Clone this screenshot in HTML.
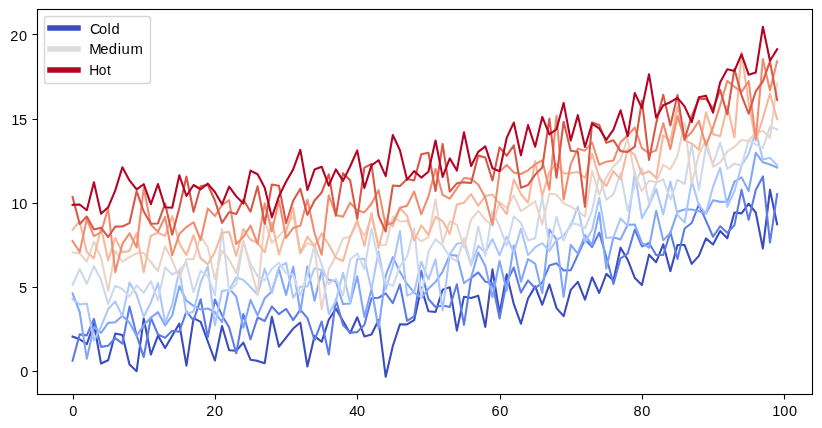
<!DOCTYPE html>
<html lang="en">
<head>
<meta charset="utf-8">
<title>Custom legend: Cold / Medium / Hot</title>
<style>
html,body{margin:0;padding:0;background:#ffffff;}
body{width:822px;height:428px;overflow:hidden;}
svg{display:block;}
text{font-family:"Liberation Sans",sans-serif;font-size:14px;fill:#000000;}
.ln{fill:none;stroke-width:2.0833;stroke-linejoin:round;stroke-linecap:square;}
.ax{fill:none;stroke:#000000;stroke-width:1.1111;stroke-linecap:butt;}
.hd{fill:none;stroke-width:5.5556;stroke-linecap:square;}
</style>
</head>
<body>
<svg width="822" height="428" viewBox="0 0 822 428">
<rect x="0" y="0" width="822" height="428" fill="#ffffff"/>
<defs><clipPath id="axclip"><rect x="37.35" y="9.28" width="775" height="385"/></clipPath></defs>
<!-- data series: 10 lines coloured with the coolwarm colormap -->
<g id="series" clip-path="url(#axclip)">
<polyline class="ln" stroke="#3b4cc0" points="72.57,336.56 79.69,339.25 86.81,344.15 93.92,323.92 101.04,363.52 108.16,360.21 115.27,333.56 122.39,334.94 129.51,364.41 136.62,371.14 143.74,318.5 150.86,354.51 157.97,335.63 165.09,347.92 172.21,335.7 179.32,323.6 186.44,365.62 193.56,318.19 200.67,321.89 207.79,341.47 214.91,360.5 222.02,326.04 229.14,350.24 236.26,350.69 243.37,342.64 250.49,359.72 257.61,360.9 264.72,363.26 271.84,316.7 278.96,346.73 286.07,337.52 293.19,328.54 300.31,322.55 307.42,366.52 314.54,336.09 321.66,341.81 328.77,319.79 335.89,308.58 343.01,321.05 350.12,333.22 357.24,317.25 364.36,336.4 371.47,334.46 378.59,320.03 385.71,376.78 392.82,345.99 399.94,324.39 407.06,324.48 414.17,320.2 421.29,287.59 428.41,311.27 435.52,311.95 442.64,289.74 449.76,287.14 456.87,330.65 463.99,296.69 471.11,297.93 478.22,295.64 485.34,326.91 492.46,269.38 499.57,313.25 506.69,274.33 513.8,304.14 520.92,323.71 528.04,298.44 535.15,286.37 542.27,304.75 549.39,284.43 556.5,308.11 563.62,316.15 570.74,289.86 577.85,281.83 584.97,299.57 592.09,277.2 599.2,292.99 606.32,273.87 613.44,280.59 620.55,247.67 627.67,259.67 634.79,277.95 641.9,285.08 649.02,254.7 656.14,262.17 663.25,244.31 670.37,271.11 677.49,245.04 684.6,245.06 691.72,263.84 698.84,255.84 705.95,238.4 713.07,244.55 720.19,231.02 727.3,238.22 734.42,212.48 741.54,213.37 748.65,203.74 755.77,212.48 762.89,248.44 770,189.89 777.12,224.15"/>
<polyline class="ln" stroke="#5d7ce6" points="72.57,360.76 79.69,334.38 86.81,335.35 93.92,318.85 101.04,346.87 108.16,345.74 115.27,338.06 122.39,343.61 129.51,306.58 136.62,335.2 143.74,357.06 150.86,317.74 157.97,334.53 165.09,337.68 172.21,330.68 179.32,331.74 186.44,311.41 193.56,320.34 200.67,299.31 207.79,337.23 214.91,299.52 222.02,315.45 229.14,327.57 236.26,353.3 243.37,313.97 250.49,339.51 257.61,317.51 264.72,321.03 271.84,306.45 278.96,314.17 286.07,308.81 293.19,320.15 300.31,309.65 307.42,318.05 314.54,340.03 321.66,321.57 328.77,354.51 335.89,299.61 343.01,325.03 350.12,332.63 357.24,332.09 364.36,324.87 371.47,298.17 378.59,297.75 385.71,293.32 392.82,303.21 399.94,284.4 407.06,320.78 414.17,316.35 421.29,270.74 428.41,298.95 435.52,306.95 442.64,305.52 449.76,306.97 456.87,284.25 463.99,324.9 471.11,278.1 478.22,272.42 485.34,281.66 492.46,283.22 499.57,318.53 506.69,281.92 513.8,267.53 520.92,292.58 528.04,280.42 535.15,288.21 542.27,282.39 549.39,265.54 556.5,263.29 563.62,270.41 570.74,270.28 577.85,254.82 584.97,239.45 592.09,247.02 599.2,232.65 606.32,256.99 613.44,283.87 620.55,258.45 627.67,253.64 634.79,229.51 641.9,246.47 649.02,242.97 656.14,254.97 663.25,254.98 670.37,232.14 677.49,259.04 684.6,228.5 691.72,223 698.84,204.26 705.95,220.57 713.07,236.72 720.19,226.21 727.3,232.77 734.42,225.21 741.54,189.89 748.65,219.82 755.77,190.05 762.89,176.41 770,242.58 777.12,194.15"/>
<polyline class="ln" stroke="#82a6fb" points="72.57,293.45 79.69,312.18 86.81,358.67 93.92,326.97 101.04,332.92 108.16,322.91 115.27,322.3 122.39,315.82 129.51,322.81 136.62,335.96 143.74,325.03 150.86,317.68 157.97,312.2 165.09,325.37 172.21,315.51 179.32,286.14 186.44,300.68 193.56,305.87 200.67,309.51 207.79,308.53 214.91,312.05 222.02,322.26 229.14,288.32 236.26,296.65 243.37,327.71 250.49,299.89 257.61,315.42 264.72,298.23 271.84,291.14 278.96,268.93 286.07,294.96 293.19,266.72 300.31,312.28 307.42,266.5 314.54,300.68 321.66,271.06 328.77,279.83 335.89,281.5 343.01,304.08 350.12,303.48 357.24,276.3 364.36,316.88 371.47,289 378.59,328.52 385.71,275.36 392.82,257.19 399.94,271.72 407.06,283.91 414.17,292.56 421.29,297.84 428.41,288.86 435.52,281.87 442.64,271.68 449.76,255.02 456.87,255.6 463.99,283.22 471.11,277.71 478.22,252.52 485.34,265.98 492.46,297.3 499.57,260.95 506.69,290.64 513.8,245.47 520.92,281.6 528.04,259.01 535.15,263.63 542.27,293.13 549.39,229.42 556.5,239.57 563.62,296.95 570.74,244.97 577.85,253.69 584.97,235.03 592.09,245.06 599.2,212.6 606.32,268.62 613.44,237.18 620.55,239.38 627.67,224.74 634.79,224.53 641.9,242.8 649.02,247.74 656.14,210.85 663.25,240.17 670.37,232.93 677.49,211.82 684.6,209.47 691.72,209.42 698.84,211.35 705.95,213.76 713.07,200.28 720.19,201.86 727.3,201.57 734.42,181.58 741.54,177.36 748.65,191.03 755.77,152.76 762.89,162.26 770,164.39 777.12,167.62"/>
<polyline class="ln" stroke="#aac7fd" points="72.57,299.03 79.69,304.5 86.81,303.53 93.92,340.49 101.04,326.61 108.16,309.03 115.27,301.56 122.39,316.13 129.51,282.65 136.62,294.8 143.74,316.79 150.86,302.64 157.97,283.07 165.09,322.69 172.21,304.65 179.32,269.64 186.44,313.44 193.56,311.83 200.67,282.46 207.79,266.41 214.91,325.37 222.02,290.87 229.14,289.96 236.26,277.38 243.37,279.91 250.49,287.02 257.61,294.58 264.72,268.68 271.84,292.88 278.96,267.1 286.07,262.79 293.19,297.74 300.31,286.75 307.42,286.4 314.54,268.19 321.66,270 328.77,313.88 335.89,301.01 343.01,272.84 350.12,302.89 357.24,258.9 364.36,258.79 371.47,289.38 378.59,251.12 385.71,289.49 392.82,265.97 399.94,231.11 407.06,295.66 414.17,292.24 421.29,261.86 428.41,279.32 435.52,259.3 442.64,310.38 449.76,254 456.87,243.82 463.99,242.48 471.11,265.25 478.22,245.79 485.34,252.85 492.46,239.07 499.57,255.4 506.69,236.72 513.8,252.81 520.92,228.64 528.04,255.16 535.15,247.21 542.27,243.11 549.39,251.04 556.5,240.08 563.62,235.67 570.74,225.96 577.85,206.74 584.97,242.38 592.09,229.86 599.2,197.78 606.32,238.06 613.44,237.19 620.55,218.47 627.67,225.78 634.79,172.3 641.9,218.12 649.02,205.51 656.14,188.85 663.25,214.4 670.37,181.59 677.49,214.88 684.6,222.66 691.72,180.86 698.84,205.11 705.95,213.33 713.07,186.6 720.19,167.93 727.3,206.74 734.42,191.2 741.54,165.52 748.65,154.19 755.77,131.32 762.89,159.41 770,157.69 777.12,165.34"/>
<polyline class="ln" stroke="#cdd9ec" points="72.57,284.83 79.69,268.98 86.81,283.92 93.92,266.06 101.04,280.07 108.16,303.92 115.27,285.73 122.39,289 129.51,296.46 136.62,285.28 143.74,292.91 150.86,281.14 157.97,300.34 165.09,267.48 172.21,274.51 179.32,270.31 186.44,262.77 193.56,292.26 200.67,270.77 207.79,276.2 214.91,295.18 222.02,229.12 229.14,291.61 236.26,284.06 243.37,242.12 250.49,263.77 257.61,276.28 264.72,280.28 271.84,268.86 278.96,262.75 286.07,273.07 293.19,275.1 300.31,295.67 307.42,274.15 314.54,245.01 321.66,264.81 328.77,284.1 335.89,278.48 343.01,295.4 350.12,259.48 357.24,253.52 364.36,269.08 371.47,228.67 378.59,260.33 385.71,282.28 392.82,286.07 399.94,266.32 407.06,256.6 414.17,228.59 421.29,297.57 428.41,251.55 435.52,239.17 442.64,245.6 449.76,256.8 456.87,261.31 463.99,238.05 471.11,264.66 478.22,226.5 485.34,255.96 492.46,211.42 499.57,226.42 506.69,245.85 513.8,216.37 520.92,222.78 528.04,240.18 535.15,238.38 542.27,196.5 549.39,248.57 556.5,216.85 563.62,240.66 570.74,223 577.85,224.53 584.97,228.27 592.09,210.92 599.2,175.41 606.32,199.72 613.44,194.28 620.55,173.26 627.67,210.7 634.79,184.88 641.9,168.36 649.02,203.07 656.14,182.93 663.25,179.43 670.37,199.6 677.49,179.79 684.6,183.96 691.72,144.44 698.84,190.36 705.95,146.7 713.07,163.97 720.19,142.63 727.3,169.03 734.42,163.67 741.54,165.6 748.65,140.41 755.77,144.35 762.89,148.02 770,126.64 777.12,129.31"/>
<polyline class="ln" stroke="#ead4c8" points="72.57,252.57 79.69,253.44 86.81,261.46 93.92,241.47 101.04,257.74 108.16,290.73 115.27,250.66 122.39,261.69 129.51,257.07 136.62,253.25 143.74,252.81 150.86,262.28 157.97,271.01 165.09,246.27 172.21,260.33 179.32,278.18 186.44,259.32 193.56,259.32 200.67,236.44 207.79,247.22 214.91,279.21 222.02,250.75 229.14,259.54 236.26,273.2 243.37,240.71 250.49,267.7 257.61,293.65 264.72,220.15 271.84,242.87 278.96,236.08 286.07,228.18 293.19,216.02 300.31,252.84 307.42,243.28 314.54,246.07 321.66,309.55 328.77,269.6 335.89,255.94 343.01,238.27 350.12,236.71 357.24,223.56 364.36,235.77 371.47,217.2 378.59,245.02 385.71,245.2 392.82,216.62 399.94,221.44 407.06,220.88 414.17,235.34 421.29,241.29 428.41,237.44 435.52,199.45 442.64,242.86 449.76,221.34 456.87,224.78 463.99,247.52 471.11,219.48 478.22,210.83 485.34,219.77 492.46,225.53 499.57,202.08 506.69,207.82 513.8,195.42 520.92,211.11 528.04,206.4 535.15,201.22 542.27,224.34 549.39,193.79 556.5,194.56 563.62,203.35 570.74,206.6 577.85,211.04 584.97,216.54 592.09,171.01 599.2,194.74 606.32,177.31 613.44,166.44 620.55,159.33 627.67,138.26 634.79,174.73 641.9,190.96 649.02,180.82 656.14,182.24 663.25,164.83 670.37,169.35 677.49,156.02 684.6,122.5 691.72,183.79 698.84,154.47 705.95,139.32 713.07,166.85 720.19,162.45 727.3,151.32 734.42,146.85 741.54,139.97 748.65,141.07 755.77,132.22 762.89,130.92 770,137.8 777.12,83.14"/>
<polyline class="ln" stroke="#f7b89c" points="72.57,229.72 79.69,221.12 86.81,251.91 93.92,258.36 101.04,227.46 108.16,260.24 115.27,238 122.39,252.34 129.51,250.98 136.62,233.12 143.74,272.26 150.86,235.81 157.97,232.79 165.09,235.96 172.21,216.12 179.32,243.45 186.44,255.12 193.56,235.16 200.67,258.37 207.79,264.19 214.91,251.95 222.02,232.55 229.14,232.04 236.26,255.99 243.37,228.98 250.49,239.77 257.61,242.78 264.72,252.33 271.84,222.26 278.96,254.26 286.07,231.69 293.19,207.77 300.31,253.36 307.42,236.72 314.54,246.18 321.66,233.63 328.77,244.47 335.89,257.84 343.01,261.02 350.12,236.98 357.24,220.08 364.36,245.7 371.47,213 378.59,248.07 385.71,218.9 392.82,226.44 399.94,208.1 407.06,215.79 414.17,240.79 421.29,225.34 428.41,234.82 435.52,216.81 442.64,221.09 449.76,234.03 456.87,204.59 463.99,202.69 471.11,194.13 478.22,205.78 485.34,195.96 492.46,194.57 499.57,204.03 506.69,214.26 513.8,179.48 520.92,194.01 528.04,202.77 535.15,161.3 542.27,195.69 549.39,171.66 556.5,163.75 563.62,173.43 570.74,173.09 577.85,171.98 584.97,178.04 592.09,153.9 599.2,177.79 606.32,186.04 613.44,171.2 620.55,179.41 627.67,149.31 634.79,155.01 641.9,174.31 649.02,171.26 656.14,177.88 663.25,135.24 670.37,141.05 677.49,106.62 684.6,140.62 691.72,143.4 698.84,149.8 705.95,112.36 713.07,134.13 720.19,136.2 727.3,105.99 734.42,137.51 741.54,52.29 748.65,103.06 755.77,140.84 762.89,117.96 770,93.66 777.12,119.19"/>
<polyline class="ln" stroke="#f18d6f" points="72.57,240.98 79.69,252.03 86.81,219.38 93.92,236.15 101.04,232.12 108.16,208.45 115.27,272.27 122.39,243.8 129.51,233.23 136.62,247.36 143.74,187.64 150.86,224.66 157.97,231.69 165.09,217.04 172.21,255.26 179.32,234.09 186.44,227.03 193.56,222.24 200.67,239.99 207.79,208.41 214.91,216.04 222.02,205.13 229.14,200.12 236.26,243.98 243.37,236.91 250.49,225.71 257.61,243.89 264.72,203.37 271.84,231.34 278.96,200.44 286.07,237.84 293.19,227.96 300.31,225.67 307.42,199.82 314.54,232.96 321.66,254.64 328.77,195.24 335.89,214.97 343.01,216.73 350.12,202.67 357.24,210.31 364.36,212.38 371.47,203.72 378.59,190.1 385.71,225.48 392.82,222.84 399.94,207.82 407.06,205.8 414.17,191.57 421.29,214.28 428.41,196.68 435.52,169.04 442.64,194.87 449.76,198.56 456.87,188.34 463.99,178.02 471.11,178.85 478.22,184.55 485.34,197.71 492.46,224.65 499.57,171.85 506.69,164.9 513.8,172.52 520.92,174.04 528.04,170.32 535.15,164.41 542.27,160.38 549.39,189.75 556.5,115.68 563.62,199.46 570.74,164.11 577.85,148.68 584.97,150.67 592.09,142.3 599.2,164.75 606.32,161.66 613.44,160.56 620.55,142.32 627.67,135.63 634.79,127.56 641.9,148.18 649.02,153.37 656.14,150.28 663.25,123.14 670.37,149.15 677.49,116.25 684.6,139.01 691.72,132.14 698.84,120.96 705.95,145.56 713.07,127.46 720.19,105.26 727.3,80.91 734.42,86.72 741.54,91.89 748.65,81.21 755.77,138.96 762.89,59.13 770,90.53 777.12,61.3"/>
<polyline class="ln" stroke="#d95847" points="72.57,196.91 79.69,224.08 86.81,216.57 93.92,229.54 101.04,227.67 108.16,237.02 115.27,226.6 122.39,226.46 129.51,223.07 136.62,191.17 143.74,211.47 150.86,223.68 157.97,223.47 165.09,203.56 172.21,234.79 179.32,207.92 186.44,176.58 193.56,211.67 200.67,186.33 207.79,184.71 214.91,200.53 222.02,222.87 229.14,212.11 236.26,214.08 243.37,199.51 250.49,211.71 257.61,186.36 264.72,223.72 271.84,184.54 278.96,185.69 286.07,223.21 293.19,200.73 300.31,188.81 307.42,214.87 314.54,200.5 321.66,192.44 328.77,174.4 335.89,215.75 343.01,173.17 350.12,180.22 357.24,218.82 364.36,167.63 371.47,163.99 378.59,215.9 385.71,231.48 392.82,185.55 399.94,186.13 407.06,178.96 414.17,180.51 421.29,154.25 428.41,152.69 435.52,191.02 442.64,143.94 449.76,191.58 456.87,183.32 463.99,182.34 471.11,183.03 478.22,155.62 485.34,157.48 492.46,180.47 499.57,147.41 506.69,155.71 513.8,145.39 520.92,187.67 528.04,185.03 535.15,174.62 542.27,167.61 549.39,118.72 556.5,177.72 563.62,121.75 570.74,150.66 577.85,151.79 584.97,206.78 592.09,122.36 599.2,124.95 606.32,142.81 613.44,140.22 620.55,151.14 627.67,151.99 634.79,146.65 641.9,100.7 649.02,159.95 656.14,123.4 663.25,94.87 670.37,125.44 677.49,95.04 684.6,139.57 691.72,116.12 698.84,99.12 705.95,98.62 713.07,108.77 720.19,89.93 727.3,114.38 734.42,68.91 741.54,95.38 748.65,113.62 755.77,91.28 762.89,81.43 770,61.33 777.12,99.84"/>
<polyline class="ln" stroke="#b40426" points="72.57,204.89 79.69,204.46 86.81,210.2 93.92,182.31 101.04,213.69 108.16,207.31 115.27,190.4 122.39,167.3 129.51,180.46 136.62,189.43 143.74,184.22 150.86,204.16 157.97,184.1 165.09,207.23 172.21,207.67 179.32,175.24 186.44,196.02 193.56,184.99 200.67,189.26 207.79,183.68 214.91,192 222.02,204.33 229.14,186.6 236.26,196.37 243.37,203.46 250.49,170.62 257.61,174.29 264.72,187.68 271.84,217.32 278.96,196.29 286.07,181.79 293.19,169.39 300.31,149.87 307.42,190.02 314.54,169.56 321.66,166.71 328.77,185.55 335.89,169.37 343.01,180.88 350.12,166.48 357.24,150.36 364.36,187.94 371.47,165.41 378.59,160.22 385.71,176.07 392.82,134.95 399.94,150.19 407.06,179.68 414.17,171.12 421.29,177.58 428.41,171.69 435.52,140.47 442.64,176.88 449.76,158.38 456.87,170.56 463.99,132.29 471.11,166.03 478.22,151.85 485.34,146.44 492.46,168.23 499.57,171.18 506.69,137.92 513.8,122.57 520.92,155.25 528.04,125.12 535.15,146.72 542.27,116.9 549.39,134.42 556.5,129.24 563.62,102.91 570.74,140.5 577.85,115.15 584.97,147.05 592.09,123.57 599.2,128.47 606.32,139.78 613.44,129.59 620.55,110.34 627.67,136.16 634.79,92.94 641.9,108.15 649.02,74.29 656.14,117.62 663.25,105.2 670.37,102.23 677.49,97.83 684.6,106.31 691.72,122.16 698.84,97.25 705.95,95.65 713.07,112.63 720.19,82.21 727.3,69.34 734.42,70.96 741.54,54.23 748.65,74.71 755.77,72.56 762.89,26.78 770,60.73 777.12,49.3"/>
</g>
<!-- axes: tick marks + frame -->
<g id="axes">
<path class="ax" d="M73.5 394.5V399.5M215.5 394.5V399.5M357.5 394.5V399.5M500.5 394.5V399.5M642.5 394.5V399.5M784.5 394.5V399.5M37.5 371.5H32.5M37.5 287.5H32.5M37.5 203.5H32.5M37.5 119.5H32.5M37.5 34.5H32.5"/>
<rect class="ax" x="37.5" y="9.5" width="775" height="385"/>
</g>
<!-- legend box + colour swatches -->
<g id="legend">
<rect x="44.5" y="16.5" width="106" height="67" rx="2.78" ry="2.78" fill="#ffffff" fill-opacity="0.8" stroke="#cccccc" stroke-opacity="0.8" stroke-width="1.3889"/>
<path class="hd" stroke="#3b4cc0" d="M50 28H78"/>
<path class="hd" stroke="#dddcdc" d="M50 49H78"/>
<path class="hd" stroke="#b40426" d="M50 70H78"/>
</g>
<!-- tick labels and legend labels (group opacity keeps text antialiasing grayscale) -->
<g id="labels" opacity="0.999">
<text transform="translate(0 416) scale(1.04 1)" x="66.59">0</text>
<text transform="translate(0 416) scale(1.04 1)" x="198.32 206.81">20</text>
<text transform="translate(0 416) scale(1.04 1)" x="335.82 343.35">40</text>
<text transform="translate(0 416) scale(1.04 1)" x="472.6 481.09">60</text>
<text transform="translate(0 416) scale(1.04 1)" x="609.13 617.62">80</text>
<text transform="translate(0 416) scale(1.04 1)" x="742.55 750.32 758.58">100</text>
<text transform="translate(0 377) scale(1.04 1)" x="19.47">0</text>
<text transform="translate(0 293) scale(1.04 1)" x="18.27">5</text>
<text transform="translate(0 209) scale(1.04 1)" x="10.82 18.59">10</text>
<text transform="translate(0 125) scale(1.04 1)" x="10.82 18.35">15</text>
<text transform="translate(0 41) scale(1.04 1)" x="9.86 18.35">20</text>
<text transform="translate(0 34) scale(1.04 1)" x="86.54 95.27 103.35 107.19" style="font-size:14.1px">Cold</text>
<text transform="translate(0 54) scale(1.08 1)" x="82.64 92.73 100.64 109 112.53 120.91" style="font-size:13.8px">Medium</text>
<text transform="translate(0 75) scale(1 1)" x="89.25 98.7 107.12" style="font-size:13.8px">Hot</text>
</g>
</svg>
</body>
</html>
